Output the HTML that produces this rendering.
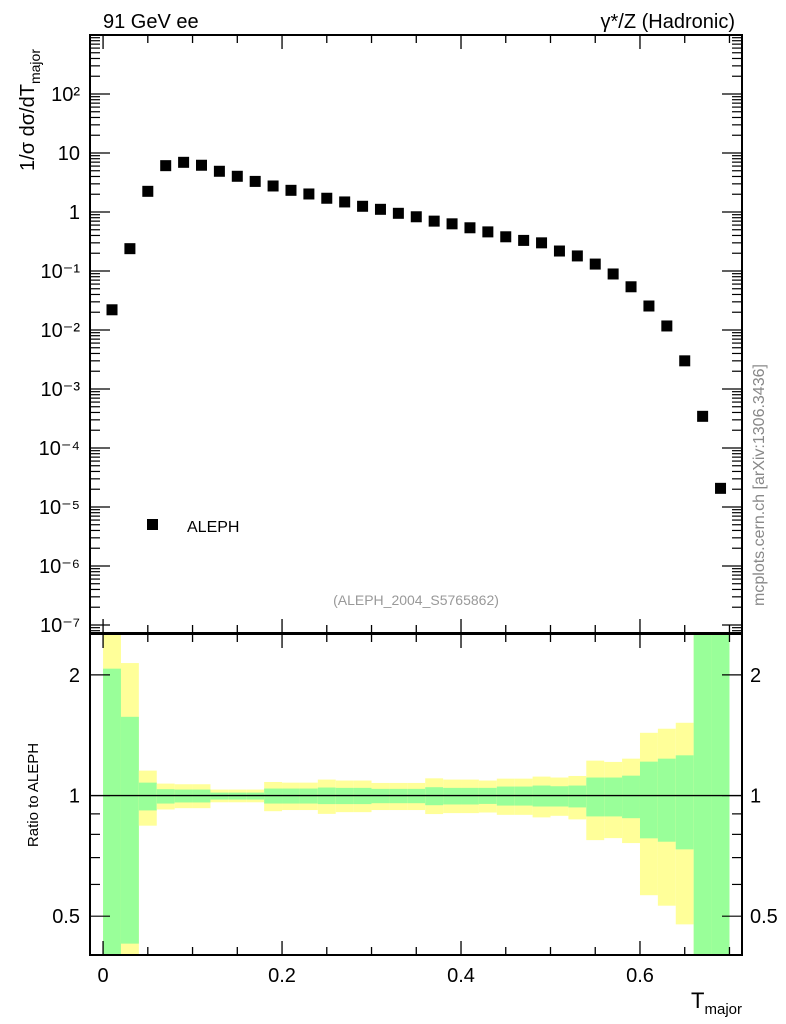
<!DOCTYPE html>
<html><head><meta charset="utf-8">
<style>
html,body{margin:0;padding:0;background:#fff;}
svg{display:block;font-family:"Liberation Sans",sans-serif;}
</style></head>
<body>
<svg id="c" width="786" height="1024" viewBox="0 0 786 1024" xmlns="http://www.w3.org/2000/svg">
<g id="ratio-bands"></g>
<g id="marks"></g>
<g id="axes"></g>
<text x="103" y="28" font-size="20">91 GeV ee</text>
<text x="735" y="28" font-size="20" text-anchor="end">γ*/Z (Hadronic)</text>
<text transform="translate(34,110) rotate(-90)" font-size="20" text-anchor="middle">1/σ  dσ/dT<tspan font-size="14" dy="6">major</tspan></text>
<text transform="translate(38,795) rotate(-90)" font-size="15" text-anchor="middle">Ratio to ALEPH</text>
<text x="742" y="1008" font-size="22" text-anchor="end">T<tspan font-size="15" dy="6">major</tspan></text>
<text x="416" y="605" font-size="14" fill="#999" text-anchor="middle">(ALEPH_2004_S5765862)</text>
<text transform="translate(764,485) rotate(-90)" font-size="16" fill="#888" text-anchor="middle">mcplots.cern.ch [arXiv:1306.3436]</text>
<rect x="147" y="519" width="11" height="11" fill="#000"/>
<text x="187" y="532" font-size="16">ALEPH</text>
</svg>
<script>
const binLow = [0,0.02,0.04,0.06,0.08,0.10,0.12,0.14,0.16,0.18,0.20,0.22,0.24,0.26,0.28,0.30,0.32,0.34,0.36,0.38,0.40,0.42,0.44,0.46,0.48,0.50,0.52,0.54,0.56,0.58,0.60,0.62,0.64,0.66,0.68];
const values = [0.022,0.239,2.24,6.1,6.95,6.2,4.9,4.03,3.3,2.76,2.33,2.02,1.71,1.48,1.25,1.11,0.95,0.83,0.70,0.63,0.54,0.46,0.38,0.33,0.30,0.218,0.18,0.131,0.089,0.054,0.0255,0.0117,0.0030,0.000344,0.0000207];
const yellowUp = [3,2.141,1.154,1.071,1.067,1.067,1.035,1.035,1.035,1.081,1.077,1.077,1.096,1.090,1.090,1.075,1.075,1.075,1.104,1.096,1.096,1.090,1.102,1.102,1.115,1.109,1.119,1.222,1.213,1.236,1.434,1.468,1.519,3,3];
const greenUp = [2.073,1.572,1.077,1.037,1.035,1.035,1.017,1.017,1.017,1.041,1.041,1.041,1.047,1.045,1.045,1.039,1.039,1.039,1.049,1.045,1.045,1.045,1.053,1.053,1.059,1.055,1.059,1.109,1.109,1.121,1.215,1.236,1.260,3,3];
const greenDn = [0.3,0.427,0.918,0.955,0.961,0.961,0.977,0.977,0.977,0.955,0.955,0.955,0.952,0.952,0.952,0.957,0.957,0.957,0.946,0.950,0.950,0.953,0.944,0.944,0.939,0.939,0.934,0.887,0.887,0.878,0.782,0.767,0.734,0.3,0.3];
const yellowDn = [0.3,0.3,0.841,0.923,0.930,0.930,0.962,0.962,0.962,0.914,0.920,0.920,0.900,0.909,0.909,0.920,0.920,0.920,0.899,0.904,0.904,0.907,0.895,0.895,0.882,0.890,0.872,0.774,0.783,0.761,0.564,0.531,0.477,0.3,0.3];
const xTicks = [0,0.2,0.4,0.6];
const xTickLabels = ["0","0.2","0.4","0.6"];
const yExps = [-7,-6,-5,-4,-3,-2,-1,0,1,2];
const yTickLabels = ["10⁻⁷","10⁻⁶","10⁻⁵","10⁻⁴","10⁻³","10⁻²","10⁻¹","1","10","10²"];
const rTicks = [0.5,1,2];
const rTickLabels = ["0.5","1","2"];
const binW = 0.02;

const NS="http://www.w3.org/2000/svg";
const L=90,R=742,T=35,MB=633,RT=634,RB=955;
const X0=-0.0146,X1=0.714;
const sx=v=>L+(v-X0)/(X1-X0)*(R-L);
const LY0=-7.136,LY1=3;
const sy=v=>MB-(Math.log10(v)-LY0)/(LY1-LY0)*(MB-T);
const RL0=Math.log2(0.4),RL1=Math.log2(2.53);
const ry=v=>{let y=RB-(Math.log2(v)-RL0)/(RL1-RL0)*(RB-RT);return Math.max(RT,Math.min(RB,y));};
function mk(tag,attrs,parent){const e=document.createElementNS(NS,tag);for(const k in attrs)e.setAttribute(k,attrs[k]);parent.appendChild(e);return e;}
const bands=document.getElementById('ratio-bands'),marks=document.getElementById('marks'),axes=document.getElementById('axes');

for(let i=0;i<binLow.length;i++){
  const x0=sx(binLow[i]),x1=sx(binLow[i]+binW);
  const yb=mk('rect',{x:x0,y:ry(yellowUp[i]),width:x1-x0,height:ry(yellowDn[i])-ry(yellowUp[i]),fill:'#ffff99'},bands);
  
  
  const gb=mk('rect',{x:x0,y:ry(greenUp[i]),width:x1-x0,height:ry(greenDn[i])-ry(greenUp[i]),fill:'#99ff99'},bands);
  
  
  const p=mk('rect',{x:sx(binLow[i]+binW/2)-5.5,y:sy(values[i])-5.5,width:11,height:11,fill:'#000'},marks);
  
  
}
mk('rect',{x:L,y:T,width:R-L,height:MB-T,fill:'none',stroke:'#000','stroke-width':2},axes);
mk('rect',{x:L,y:RT,width:R-L,height:RB-RT,fill:'none',stroke:'#000','stroke-width':2},axes);
mk('line',{x1:L,x2:R,y1:ry(1),y2:ry(1),stroke:'#000','stroke-width':1.3},axes);
for(let v=0;v<=0.7001;v+=0.05){
  const x=sx(v),maj=Math.abs(v/0.2-Math.round(v/0.2))<1e-6,len=maj?14:8;
  [[T,1],[MB,-1],[RT,1],[RB,-1]].forEach(([y,d])=>mk('line',{x1:x,x2:x,y1:y,y2:y+d*len,stroke:'#000','stroke-width':1.3},axes));
}
xTicks.forEach((v,i)=>{const t=mk('text',{x:sx(v),y:982,'font-size':20,'text-anchor':'middle'},axes);t.textContent=xTickLabels[i];

});
for(let e=-8;e<=3;e++){for(let m=1;m<10;m++){const v=m*Math.pow(10,e),y=sy(v);if(y<T-0.5||y>MB+0.5)continue;const len=m===1?20:10;
mk('line',{x1:L,x2:L+len,y1:y,y2:y,stroke:'#000','stroke-width':1.2},axes);mk('line',{x1:R,x2:R-len,y1:y,y2:y,stroke:'#000','stroke-width':1.2},axes);}}
yExps.forEach((e,i)=>{const t=mk('text',{x:80,y:sy(Math.pow(10,e))+7,'font-size':20,'text-anchor':'end'},axes);t.textContent=yTickLabels[i];

});
[0.4,0.5,0.6,0.7,0.8,0.9,1,2].forEach(v=>{const y=ry(v),len=(v===0.5||v===1||v===2)?20:10;
mk('line',{x1:L,x2:L+len,y1:y,y2:y,stroke:'#000','stroke-width':1.2},axes);mk('line',{x1:R,x2:R-len,y1:y,y2:y,stroke:'#000','stroke-width':1.2},axes);});
rTicks.forEach((v,i)=>{const t=mk('text',{x:80,y:ry(v)+7,'font-size':20,'text-anchor':'end'},axes);t.textContent=rTickLabels[i];


const t2=mk('text',{x:750,y:ry(v)+7,'font-size':20},axes);t2.textContent=rTickLabels[i];

});
</script>
</body></html>
